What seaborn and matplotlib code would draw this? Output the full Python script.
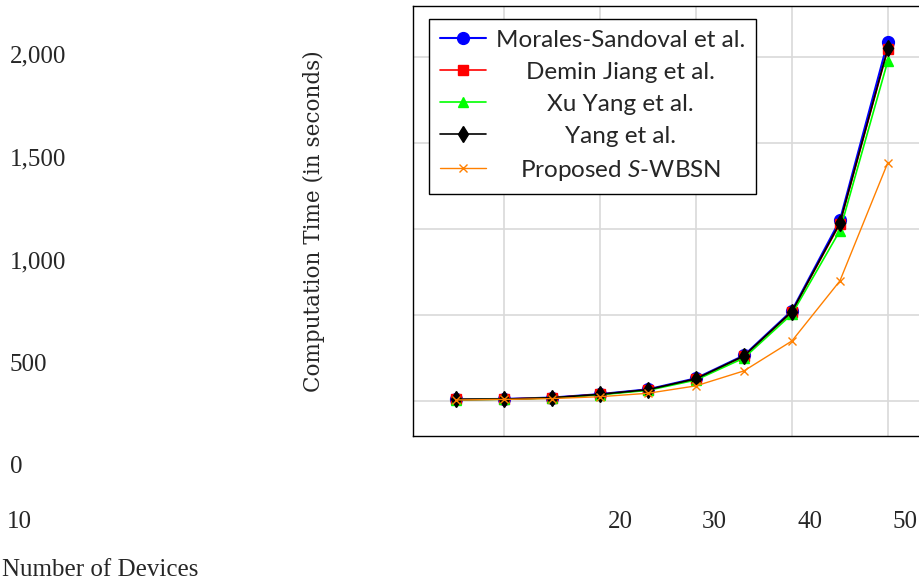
import matplotlib
matplotlib.use('Agg')
import numpy as np
import pandas as pd
import matplotlib.pyplot as plt
import seaborn as sns
from matplotlib.font_manager import FontProperties

# data
devices = [5, 10, 15, 20, 25, 30, 35, 40, 45, 50]
morales = [10, 12, 20, 40, 68, 132, 265, 525, 1050, 2090]
demin = [9, 11, 19, 38, 65, 128, 260, 518, 1030, 2045]
xu_yang = [8, 10, 17, 36, 62, 122, 250, 505, 990, 1978]
yang = [9, 11, 19, 39, 66, 129, 262, 520, 1035, 2050]
proposed = [6, 9, 14, 25, 45, 88, 175, 349, 698, 1386]

labels = ['Morales-Sandoval et al.', 'Demin Jiang et al.', 'Xu Yang et al.',
          'Yang et al.', 'Proposed $\\mathit{S}$-WBSN']
xtick_vals = [10, 20, 30, 40, 50]
xtick_labels = ['10', '20', '30', '40', '50']
ytick_vals = [0, 500, 1000, 1500, 2000]
ytick_labels = ['0', '500', '1,000', '1,500', '2,000']

sns.set_style('white')
plt.rcParams['mathtext.fontset'] = 'custom'
plt.rcParams['mathtext.it'] = 'Lato:italic'
plt.rcParams['mathtext.rm'] = 'Lato'

W, H = 920, 584
fig = plt.figure(figsize=(W / 100, H / 100), dpi=100)
# axes box runs past the right edge like in the reference
ax = fig.add_axes([413 / W, 1 - 436 / H, 518 / W, 430 / H])

styles = [
    (morales, '#0000ff', 'o', 8.5, 1.5),
    (demin, '#ff0000', 's', 7.5, 1.2),
    (xu_yang, '#00ff00', '^', 7.5, 1.2),
    (yang, '#000000', 'd', 8.5, 1.2),
    (proposed, '#ff8000', 'x', 5.5, 1.0),
]
for (vals, col, mk, ms, lw), lab in zip(styles, labels):
    sns.lineplot(x=devices, y=vals, ax=ax, color=col, marker=mk, markersize=ms,
                 linewidth=lw, markeredgecolor=col, markeredgewidth=1.0,
                 label=lab)

ax.set_xlim(0.5, 54.5)
ax.set_ylim(-203.5, 2296.5)
ax.set_xticks(xtick_vals)
ax.set_yticks(ytick_vals)
ax.tick_params(direction='in', length=8, width=1.5, color='#a8a8a8',
               labelbottom=False, labelleft=False)
ax.grid(True, color='#d9d9d9', linewidth=1.2)
ax.set_axisbelow(True)
for s in ax.spines.values():
    s.set_color('black')
    s.set_linewidth(1.0)
ax.set_xlabel('')
ax.set_ylabel('')

leg = ax.legend(loc='upper left', bbox_to_anchor=(429 / W, 1 - 19 / H),
                bbox_transform=fig.transFigure, borderaxespad=0,
                frameon=True, fancybox=False, edgecolor='black', framealpha=1,
                prop=FontProperties(family='Lato', size=17.5),
                handlelength=1.9, handletextpad=0.4, labelspacing=0.45,
                borderpad=0.45)
leg.get_frame().set_linewidth(1.0)

# centre the legend texts like pgfplots does
fig.canvas.draw()
texts = leg.get_texts()
widths = [t.get_window_extent().width for t in texts]
mw = max(widths)
for t, w in zip(texts, widths):
    t.set_position(((mw - w) / 2, 0))

# detached tick labels and titles, placed as in the reference
tick_font = dict(family='Liberation Serif', size=18)
for lab, ypx in zip(ytick_labels, [467, 365, 262, 159, 56]):
    fig.text(10 / W, 1 - ypx / H, lab, ha='left', va='center', **tick_font)
for lab, xpx in zip(xtick_labels, [19, 620, 714, 810, 905]):
    fig.text(xpx / W, 1 - 522 / H, lab, ha='center', va='center', **tick_font)
fig.text(2 / W, 1 - 570 / H, 'Number of Devices', ha='left', va='center',
         **tick_font)
fig.text(314 / W, 1 - 221 / H, 'Computation Time (in seconds)', rotation=90,
         ha='center', va='center', family='DejaVu Serif', size=15.5)

fig.savefig('out.png', dpi=100)
